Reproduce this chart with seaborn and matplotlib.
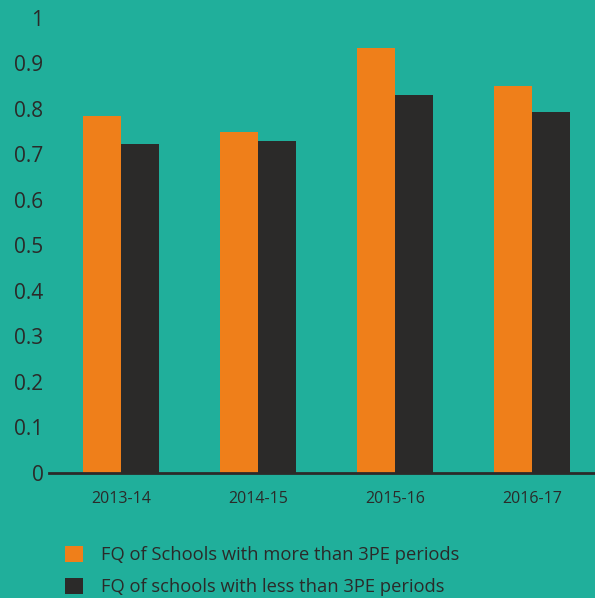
import pandas as pd
import matplotlib.pyplot as plt
import seaborn as sns

# Data
years = ['2013-14', '2014-15', '2015-16', '2016-17']
more_than_3pe = [0.784, 0.749, 0.933, 0.850]
less_than_3pe = [0.722, 0.729, 0.830, 0.793]
series_names = ['FQ of Schools with more than 3PE periods',
                'FQ of schools with less than 3PE periods']
y_ticks = [0, 0.1, 0.2, 0.3, 0.4, 0.5, 0.6, 0.7, 0.8, 0.9, 1]
y_tick_labels = ['0', '0.1', '0.2', '0.3', '0.4', '0.5', '0.6', '0.7', '0.8', '0.9', '1']

df = pd.DataFrame({
    'Year': years * 2,
    'Value': more_than_3pe + less_than_3pe,
    'Series': [series_names[0]] * 4 + [series_names[1]] * 4,
})

# Style
bg = '#20AF9B'
ink = '#2B2A29'
palette = {series_names[0]: '#EF7F1A', series_names[1]: '#2B2A29'}

sns.set_theme(style='white')
plt.rcParams['font.family'] = ['Open Sans', 'DejaVu Sans']

fig = plt.figure(figsize=(5.95, 5.98), dpi=100, facecolor=bg)
ax = fig.add_axes([49 / 595, 1 - 472.7 / 598, 1 - 49 / 595, (472.7 - 17.7) / 598])
ax.set_facecolor(bg)

sns.barplot(data=df, x='Year', y='Value', hue='Series', hue_order=series_names,
            palette=palette, width=0.55, saturation=1, linewidth=0, ax=ax, legend=True)

ax.set_xlim(-0.526, 3.46)
ax.set_ylim(0, 1)
ax.set_yticks(y_ticks)
ax.set_yticklabels(y_tick_labels)
ax.set_xlabel('')
ax.set_ylabel('')
ax.tick_params(axis='y', length=0, pad=4, labelsize=15, labelcolor=ink)
ax.tick_params(axis='x', length=0, pad=13, labelsize=11.5, labelcolor=ink)

for side in ['top', 'right', 'left']:
    ax.spines[side].set_visible(False)
ax.spines['bottom'].set_color(ink)
ax.spines['bottom'].set_linewidth(2)

# Legend below the chart
handles, labels = ax.get_legend_handles_labels()
ax.get_legend().remove()
leg = fig.legend(handles, labels, loc='upper left', bbox_to_anchor=(56 / 595, 1 - 537 / 598),
                 frameon=False, fontsize=13.2, handlelength=0.95, handleheight=0.95,
                 handletextpad=1.0, labelspacing=0.75, borderpad=0)
for t in leg.get_texts():
    t.set_color(ink)
for h in leg.legend_handles:
    h.set_linewidth(0)

plt.savefig('out.png', dpi=100, facecolor=bg)
plt.close()
